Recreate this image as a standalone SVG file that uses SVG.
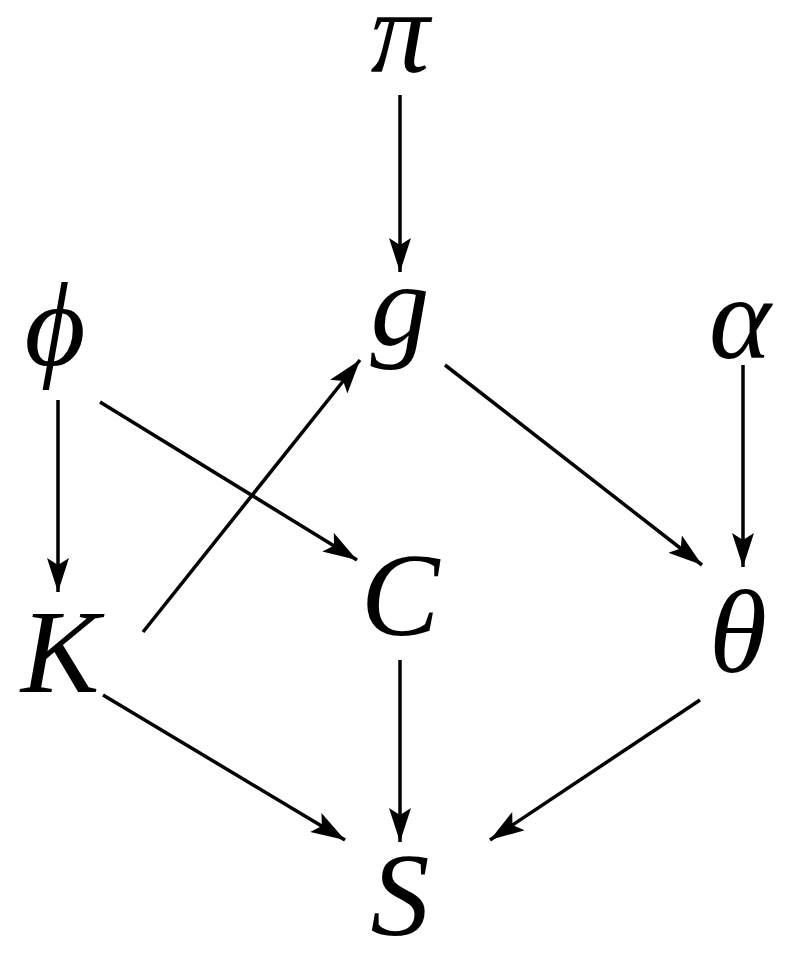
<svg xmlns="http://www.w3.org/2000/svg" width="786" height="959" viewBox="0 0 786 959">
<style>
text{font-family:"Liberation Serif","DejaVu Serif",serif;font-style:italic;font-size:118px;text-anchor:middle;fill:#000}
.e line{stroke:#000;stroke-width:3.5}
</style>
<defs><marker id="a" viewBox="0 0 34 22" refX="34" refY="11" markerWidth="34" markerHeight="22" markerUnits="userSpaceOnUse" orient="auto"><path d="M0,0L34,11L0,22L7,11Z" fill="#000"/></marker></defs>
<rect width="786" height="959" fill="#fff"/>
<g class="e">
<line x1="400" y1="95" x2="400" y2="272" marker-end="url(#a)"/>
<line x1="58" y1="400" x2="58" y2="592" marker-end="url(#a)"/>
<line x1="100" y1="402" x2="357" y2="560" marker-end="url(#a)"/>
<line x1="143" y1="632" x2="360" y2="360" marker-end="url(#a)"/>
<line x1="445" y1="365" x2="702" y2="565" marker-end="url(#a)"/>
<line x1="743" y1="365" x2="743" y2="567" marker-end="url(#a)"/>
<line x1="400" y1="660" x2="400" y2="842" marker-end="url(#a)"/>
<line x1="103" y1="695" x2="345" y2="840" marker-end="url(#a)"/>
<line x1="700" y1="700" x2="490" y2="840" marker-end="url(#a)"/>
</g>
<g id="pi"><text x="400" y="72">π</text></g>
<g id="g"><text x="400" y="345">g</text></g>
<g id="phi"><text x="55" y="365">ϕ</text></g>
<g id="alpha"><text x="740" y="358">α</text></g>
<g id="C"><text x="400" y="635">C</text></g>
<g id="K"><text x="60" y="692">K</text></g>
<g id="theta"><text x="738" y="672">θ</text></g>
<g id="S"><text x="400" y="935">S</text></g>
</svg>
